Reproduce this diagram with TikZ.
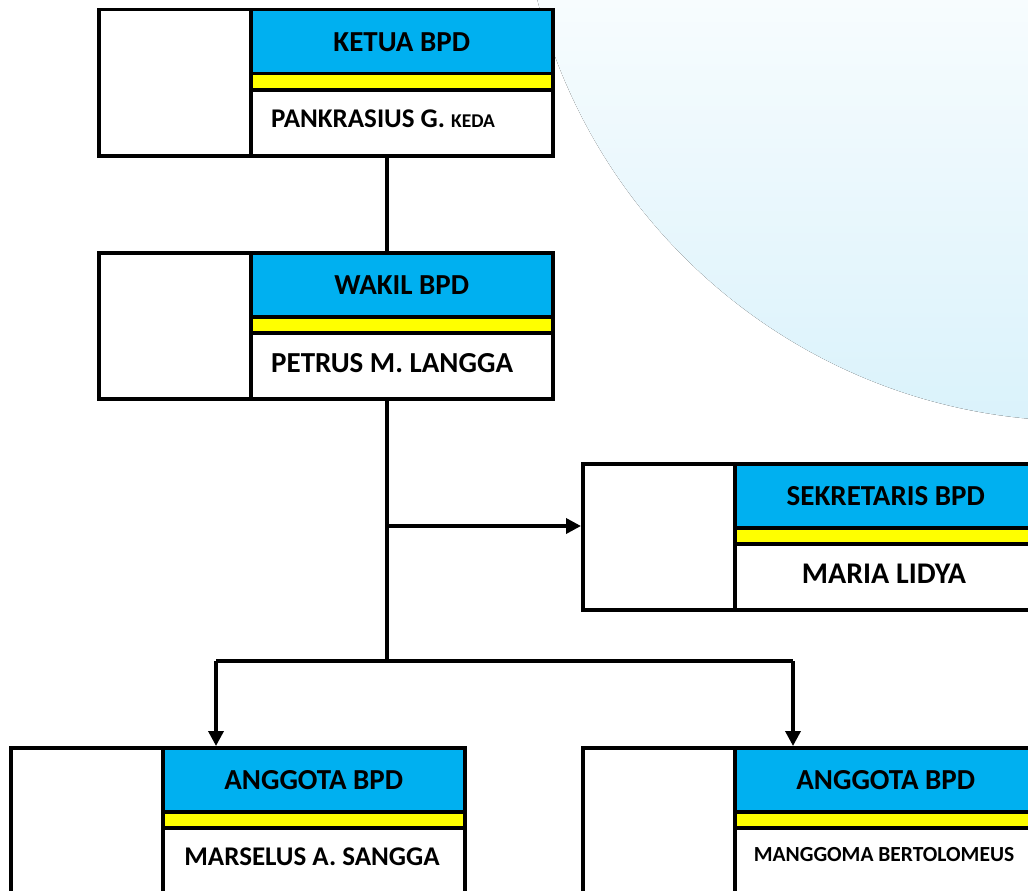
\documentclass[tikz,border=0pt]{standalone}
\usepackage{fontspec}
\setmainfont{Carlito}
\usetikzlibrary{arrows.meta}
\definecolor{hdblue}{HTML}{00B0F0}
\definecolor{hdyellow}{HTML}{FFFF00}
\definecolor{bgtop}{HTML}{F7FCFE}
\definecolor{bgbot}{HTML}{DAF2FB}
\tikzset{
  cell/.style={draw=black, line width=3.5pt, rectangle, inner sep=0pt, anchor=north west},
  photo/.style={cell, fill=white, minimum width=152pt, minimum height=146pt},
  titlecell/.style={cell, fill=hdblue, minimum width=302pt, minimum height=64pt,
     font=\fontsize{29}{29}\selectfont\bfseries},
  bandcell/.style={cell, fill=hdyellow, minimum width=302pt, minimum height=16pt},
  namecell/.style={cell, fill=white, minimum width=302pt, minimum height=66pt},
  nametext/.style={inner sep=0pt, font=\bfseries},
  conn/.style={draw=black, line width=3.5pt},
  arr/.style={conn, -{Triangle[length=15pt,width=15pt]}},
}
\newcommand\bpdbox[4]{%
  \node[photo] (#1-photo) at (#2,#3) {};
  \node[titlecell] (#1-title) at (#2+152,#3) {#4};
  \node[bandcell] (#1-band) at (#2+152,#3+64) {};
  \node[namecell] (#1-name) at (#2+152,#3+80) {};
}
\begin{document}
\begin{tikzpicture}[x=1pt,y=-1pt]
\useasboundingbox (0,0) rectangle (1028,891);
\clip (0,0) rectangle (1028,891);
\fill[white] (0,0) rectangle (1028,891);
% background arc
\begin{scope}
  \clip (1080,-139) circle (560);
  \fill[top color=bgtop, bottom color=bgbot] (480,0) rectangle (1040,422);
\end{scope}
% boxes
\bpdbox{k}{97}{8}{KETUA BPD}
\bpdbox{w}{97}{251}{WAKIL BPD}
\bpdbox{s}{581}{462}{SEKRETARIS BPD}
\bpdbox{a}{9}{746}{ANGGOTA BPD}
\bpdbox{b}{581}{746}{ANGGOTA BPD}
% names
\node[nametext, anchor=west] (k-txt) at (271,119) {\fontsize{27}{27}\selectfont PANKRASIUS G. {\fontsize{19.5}{19.5}\selectfont KEDA}};
\node[nametext, anchor=west] (w-txt) at (271,363) {\fontsize{29}{29}\selectfont PETRUS M. LANGGA};
\node[nametext] (s-txt) at (884,574) {\fontsize{30}{30}\selectfont MARIA LIDYA};
\node[nametext] (a-txt) at (312,857) {\fontsize{27}{27}\selectfont MARSELUS A. SANGGA};
\node[nametext] (b-txt) at (884,855) {\fontsize{21.5}{21.5}\selectfont MANGGOMA BERTOLOMEUS};
% connectors
\coordinate (trunk) at (387,0);
\coordinate (hub) at (387,661);
\coordinate (la) at (216,661);
\coordinate (ra) at (793,661);
\draw[conn] (k-name.south -| trunk) -- (w-title.north -| trunk);
\draw[conn] (w-name.south -| trunk) -- (hub);
\draw[arr] (trunk |- s-band.north) -- (s-photo.west |- s-band.north);
\draw[conn] (la) -- (ra);
\draw[arr] (la) -- (la |- a-title.north);
\draw[arr] (ra) -- (ra |- b-title.north);
\end{tikzpicture}
\end{document}
